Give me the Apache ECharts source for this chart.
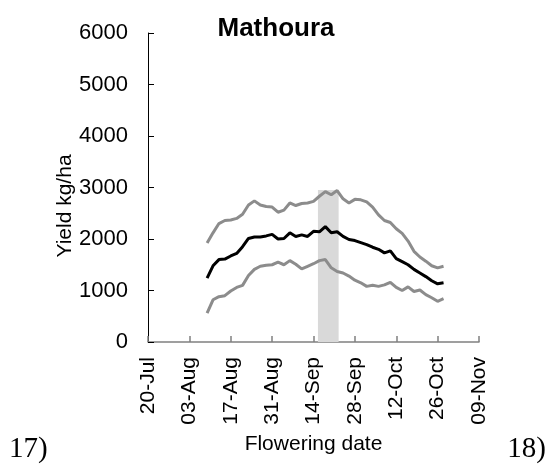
<!DOCTYPE html>
<html>
<head>
<meta charset="utf-8">
<script src="https://cdn.jsdelivr.net/npm/echarts@6/dist/echarts.min.js"></script>
<style>html,body{margin:0;padding:0;background:#fff}#c{width:552px;height:472px}</style>
</head>
<body>
<div id="c"></div>
<script>
// x values: days after 20-Jul
const days = [20,22,24,26,28,30,32,34,36,38,40,42,44,46,48,50,52,54,56,58,60,62,64,66,68,70,72,74,76,78,80,82,84,86,88,90,92,94,96,98,100];
const median = [1240,1480,1600,1610,1670,1720,1850,2010,2040,2040,2060,2090,2000,2010,2120,2050,2080,2050,2150,2140,2240,2120,2140,2050,1990,1970,1930,1890,1840,1800,1730,1770,1620,1560,1500,1410,1340,1270,1190,1130,1150];
const upper = [1920,2120,2300,2360,2370,2400,2480,2660,2740,2660,2630,2620,2520,2560,2700,2650,2690,2700,2730,2830,2920,2860,2940,2780,2700,2770,2760,2720,2620,2470,2360,2320,2200,2110,1960,1760,1650,1570,1480,1440,1470];
const lower = [560,820,880,900,990,1060,1100,1290,1410,1470,1490,1500,1550,1500,1580,1510,1420,1470,1520,1580,1600,1440,1370,1340,1280,1200,1150,1080,1100,1080,1110,1160,1060,1000,1070,980,1010,920,860,790,840];
const tickLabels = ["20-Jul","03-Aug","17-Aug","31-Aug","14-Sep","28-Sep","12-Oct","26-Oct","09-Nov"];
const bandStart = 57.5, bandEnd = 64.5, bandTop = 2950;

const pairs = v => days.map((d, i) => [d, v[i]]);
const chart = echarts.init(document.getElementById('c'));
const F = '"Liberation Sans", Arial, sans-serif';
chart.setOption({
  animation: false,
  backgroundColor: '#fff',
  grid: {left: 148, right: 73, top: 33, bottom: 130, containLabel: false},
  xAxis: {
    type: 'value', min: 0, max: 112, interval: 14,
    name: 'Flowering date', nameLocation: 'middle', nameGap: 92,
    nameTextStyle: {fontFamily: F, fontSize: 21, color: '#000'},
    axisLine: {show: true, lineStyle: {color: '#808080', width: 1.5}},
    axisTick: {show: true, inside: true, length: 6, lineStyle: {color: '#808080', width: 1.5}},
    splitLine: {show: false},
    axisLabel: {
      rotate: 90, margin: 15, fontFamily: F, fontSize: 21, color: '#000',
      formatter: v => tickLabels[Math.round(v / 14)] || ''
    }
  },
  yAxis: {
    type: 'value', min: 0, max: 6000, interval: 1000,
    axisLine: {show: true, lineStyle: {color: '#000', width: 1}},
    axisTick: {show: true, inside: true, length: 6, lineStyle: {color: '#000'}},
    splitLine: {show: false},
    axisLabel: {margin: 20, fontFamily: F, fontSize: 22, color: '#000', formatter: v => String(v)}
  },
  graphic: [
    {type: 'text', x: 276, y: 29,
     style: {text: 'Mathoura', font: 'bold 26px ' + F, fill: '#000', textAlign: 'center', textVerticalAlign: 'middle'}},
    {type: 'text', x: 65, y: 206, rotation: Math.PI / 2,
     style: {text: 'Yield kg/ha', font: '21px ' + F, fill: '#000', textAlign: 'center', textVerticalAlign: 'middle'}},
    {type: 'text', x: 9, y: 449,
     style: {text: '17)', font: '29px "Liberation Serif", "Times New Roman", serif', fill: '#000', textAlign: 'left', textVerticalAlign: 'middle'}},
    {type: 'text', x: 546, y: 449,
     style: {text: '18)', font: '29px "Liberation Serif", "Times New Roman", serif', fill: '#000', textAlign: 'right', textVerticalAlign: 'middle'}}
  ],
  series: [
    {type: 'line', data: pairs(upper), symbol: 'none', lineStyle: {color: '#8c8c8c', width: 3}, z: 3,
     markArea: {silent: true, itemStyle: {color: '#d9d9d9'},
       data: [[{xAxis: bandStart, yAxis: 0}, {xAxis: bandEnd, yAxis: bandTop}]]}},
    {type: 'line', data: pairs(lower), symbol: 'none', lineStyle: {color: '#8c8c8c', width: 3}, z: 3},
    {type: 'line', data: pairs(median), symbol: 'none', lineStyle: {color: '#000', width: 3}, z: 4}
  ]
});
</script>
</body>
</html>
